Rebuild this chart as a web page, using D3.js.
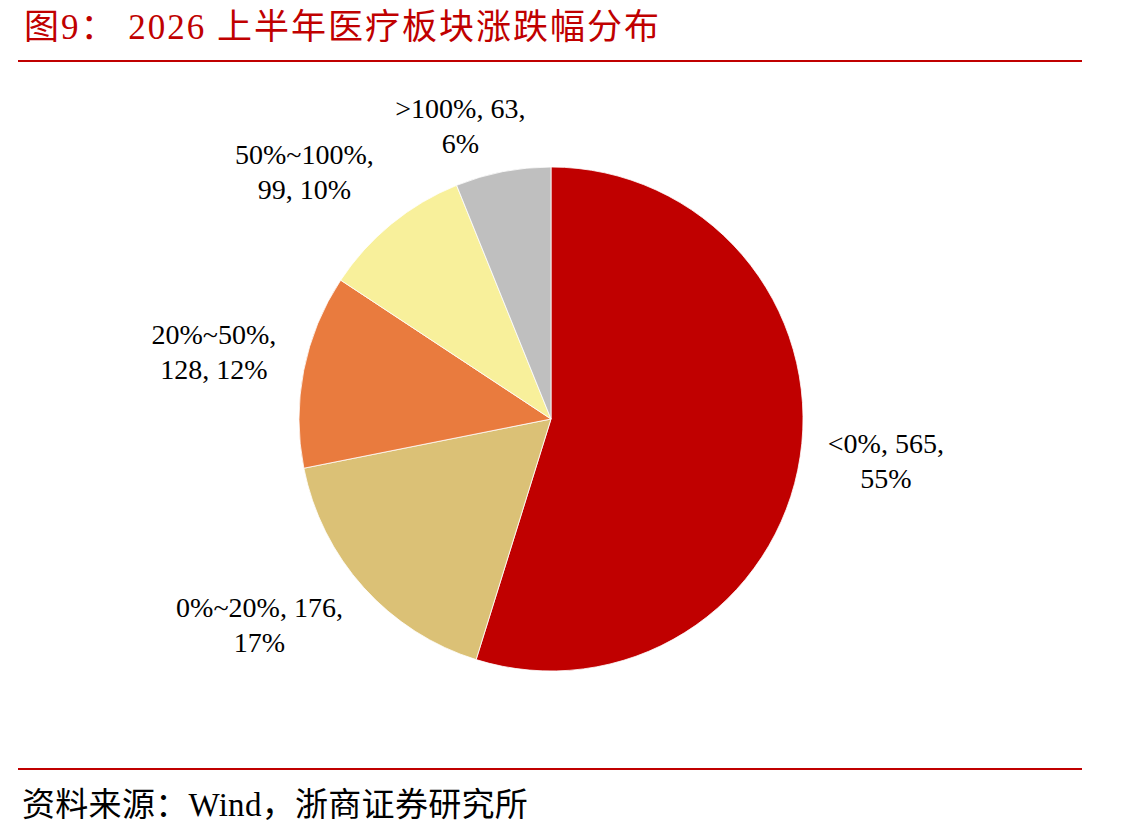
<!DOCTYPE html>
<html>
<head>
    <meta charset="UTF-8">
    <title>图9 2026 上半年医疗板块涨跌幅分布</title>
    <script src="https://cdnjs.cloudflare.com/ajax/libs/d3/7.8.5/d3.min.js"></script>
    <style>
        body {
            margin: 0;
            background: #fff;
        }
        svg text {
            font-family: "Liberation Serif", "Noto Sans CJK SC", serif;
        }
    </style>
</head>
<body>
    <div id="chart"></div>

    <script>
        // data
        const categories = ["<0%", "0%~20%", "20%~50%", "50%~100%", ">100%"];
        const counts = [565, 176, 128, 99, 63];
        const colors = ["#C00000", "#DBC176", "#E97B3E", "#F8F09B", "#BFBFBF"];
        // how many label parts go on the first line (category, count, share)
        const firstLineParts = [2, 2, 1, 1, 2];

        const width = 1141, height = 838;
        const cx = 551, cy = 419, radius = 252;

        const svg = d3.select("#chart").append("svg")
            .attr("width", width)
            .attr("height", height);

        // title + rules
        svg.append("text")
            .attr("x", 24)
            .attr("y", 39)
            .attr("fill", "#C00000")
            .attr("font-size", 35)
            .attr("letter-spacing", 2)
            .text("图9： 2026 上半年医疗板块涨跌幅分布");

        svg.append("line")
            .attr("x1", 18).attr("x2", 1082)
            .attr("y1", 61).attr("y2", 61)
            .attr("stroke", "#C00000").attr("stroke-width", 2);

        svg.append("line")
            .attr("x1", 18).attr("x2", 1082)
            .attr("y1", 769).attr("y2", 769)
            .attr("stroke", "#C00000").attr("stroke-width", 2);

        svg.append("text")
            .attr("x", 22)
            .attr("y", 816)
            .attr("fill", "#000")
            .attr("font-size", 33)
            .attr("letter-spacing", 0.3)
            .text("资料来源：Wind，浙商证券研究所");

        // pie
        const total = d3.sum(counts);
        const rows = categories.map((c, i) => ({
            cat: c,
            value: counts[i],
            color: colors[i],
            pct: Math.round(counts[i] / total * 100) + "%",
            split: firstLineParts[i]
        }));

        const pie = d3.pie().value(d => d.value).sort(null);
        const arc = d3.arc().innerRadius(0).outerRadius(radius);

        const g = svg.append("g").attr("transform", `translate(${cx},${cy})`);
        const arcs = pie(rows);

        g.selectAll("path.slice")
            .data(arcs)
            .join("path")
            .attr("class", "slice")
            .attr("d", arc)
            .attr("fill", d => d.data.color)
            .attr("stroke", "#fff")
            .attr("stroke-width", 0.8);

        // labels: box corner sits on a ring just outside the rim ("best fit"-ish),
        // kept below the top of the plot area
        const lineH = 35, boxH = 54, ringX = 280, ringY = 276, plotTop = 105 - cy;
        const clamp = v => Math.max(-1, Math.min(1, v));
        arcs.forEach(d => {
            const parts = [d.data.cat, d.data.value, d.data.pct];
            const line1 = parts.slice(0, d.data.split).join(", ") + ",";
            const line2 = parts.slice(d.data.split).join(", ");
            const mid = (d.startAngle + d.endAngle) / 2;
            const dx = Math.sin(mid), dy = -Math.cos(mid);

            const t = g.append("text")
                .attr("font-size", 28)
                .attr("fill", "#000")
                .attr("text-anchor", "middle");
            const s1 = t.append("tspan").attr("x", 0).attr("y", 0).text(line1);
            const s2 = t.append("tspan").attr("x", 0).attr("y", lineH).text(line2);

            const w = t.node().getBBox().width;
            const lx = dx * ringX + clamp(dx * 3) * w / 2;
            let ly = dy * ringY + clamp(dy * 1.5) * boxH / 2;
            ly = Math.max(ly, plotTop + boxH / 2);
            s1.attr("x", lx).attr("y", ly - 14);
            s2.attr("x", lx).attr("y", ly - 14 + lineH);
        });
    </script>
</body>
</html>
